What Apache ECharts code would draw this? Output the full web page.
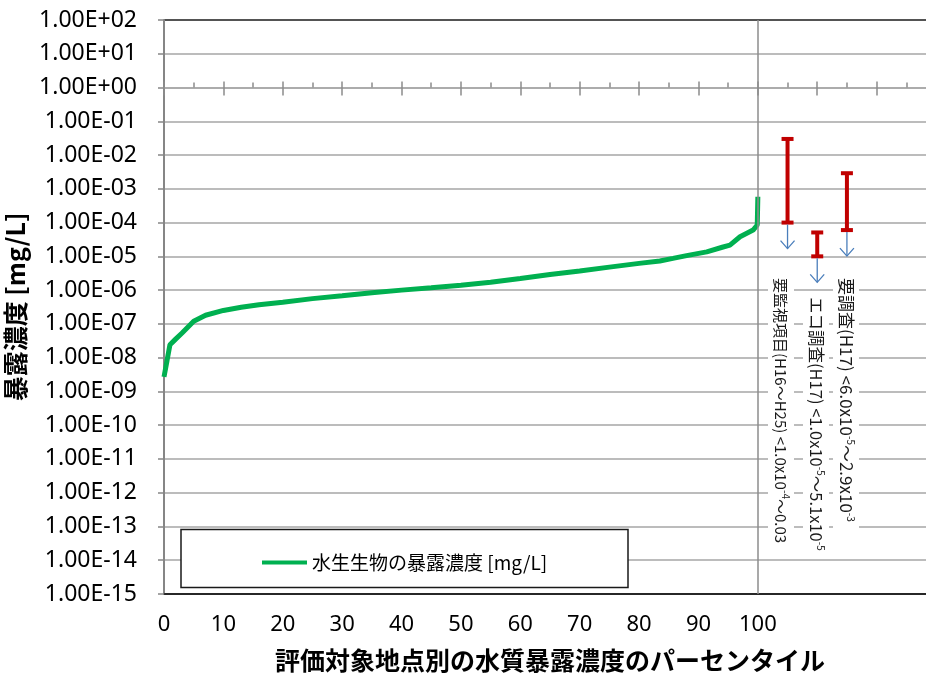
<!DOCTYPE html>
<html>
<head>
<meta charset="utf-8">
<script src="https://cdn.jsdelivr.net/npm/echarts@6/dist/echarts.min.js"></script>
<style>html,body{margin:0;padding:0;background:#fff}#c{width:926px;height:675px}</style>
</head>
<body>
<div id="c"></div>
<script>
// percentile (x) and exposure concentration [mg/L] (y)
const pct  = [0, 0.5, 1, 2, 3, 5, 7, 10, 13, 16, 20, 25, 30, 35, 40, 45, 50, 55, 60, 65, 70, 75, 80, 83.5, 85.7, 88, 91.4, 94, 95.3, 97, 99.2, 99.9, 100];
const conc = [2.7e-9, 8e-9, 2.4e-8, 3.6e-8, 5.3e-8, 1.2e-7, 1.8e-7, 2.5e-7, 3.1e-7, 3.7e-7, 4.4e-7, 5.6e-7, 6.8e-7, 8.3e-7, 1.0e-6, 1.17e-6, 1.4e-6, 1.7e-6, 2.2e-6, 2.9e-6, 3.7e-6, 4.8e-6, 6.2e-6, 7.3e-6, 8.7e-6, 1.05e-5, 1.36e-5, 1.86e-5, 2.16e-5, 3.8e-5, 6.0e-5, 8.5e-5, 5.8e-4];
// survey ranges
const barX    = [105, 110, 115];
const barLow  = [1.0e-4, 1.0e-5, 6.0e-5];
const barHigh = [0.03, 5.1e-5, 2.9e-3];
const annoText = [
  '要監視項目(H16～H25) <1.0x10{s|-4}～0.03',
  'エコ調査(H17) <1.0x10{s|-5}～5.1x10{s|-5}',
  '要調査(H17) <6.0x10{s|-5}～2.9x10{s|-3}'
];
const seriesName = '水生生物の暴露濃度 [mg/L]';
const xName = '評価対象地点別の水質暴露濃度のパーセンタイル';
const yName = '暴露濃度 [mg/L]';

const chart = echarts.init(document.getElementById('c'), null, {renderer: 'canvas'});
const gridColors = [];
for (let i = 0; i < 18; i++) gridColors.push((i === 0 || i === 17) ? '#1a1a1a' : '#a6a6a6');

function yFmt(v) {
  const e = Math.round(Math.log10(v));
  return '1.00E' + (e < 0 ? '-' : '+') + String(Math.abs(e)).padStart(2, '0');
}
const latin = '"Noto Sans", sans-serif';
const cjk = '"Noto Sans CJK JP", sans-serif';

const curve = pct.map((p, i) => [p, conc[i]]);
const bars = barX.map((x, i) => [x, barLow[i], barHigh[i]]);

const annoPos = [[781, 272, 15], [816, 291, 16.5], [846, 272, 17]];

const option = {
  animation: false,
  backgroundColor: '#fff',
  grid: {left: 164, top: 20, bottom: 81, right: -10, containLabel: false, outerBoundsMode: 'none'},
  xAxis: [
    {
      type: 'value', min: 0, max: 130, interval: 10, position: 'bottom',
      axisLine: {show: true, lineStyle: {color: '#1a1a1a', width: 1.5}},
      axisTick: {show: false},
      splitLine: {show: false},
      axisLabel: {fontSize: 22, fontFamily: latin, color: '#000', margin: 20,
        formatter: v => (v <= 100 ? String(v) : '')},
      name: xName, nameLocation: 'middle', nameGap: 54,
      nameTextStyle: {fontSize: 25, fontWeight: 'bold', fontFamily: cjk, color: '#000'}
    },
    {
      type: 'value', min: 0, max: 130, interval: 10, position: 'top', offset: -67.5,
      axisLine: {show: true, onZero: false, lineStyle: {color: '#a6a6a6', width: 1.5}},
      axisTick: {show: true, length: 6, lineStyle: {color: '#8c8c8c', width: 1.5}},
      minorTick: {show: true, splitNumber: 2, length: 5, lineStyle: {color: '#8c8c8c', width: 1.5}},
      axisLabel: {show: false}, splitLine: {show: false}
    },
    {
      type: 'value', min: 0, max: 130, interval: 10, position: 'top', offset: -67.5,
      axisLine: {show: false, onZero: false},
      axisTick: {show: true, inside: true, length: 8, lineStyle: {color: '#8c8c8c', width: 1.5}},
      axisLabel: {show: false}, splitLine: {show: false}
    }
  ],
  yAxis: {
    type: 'log', logBase: 10, min: 1e-15, max: 1e2, interval: 1, splitNumber: 17,
    axisLine: {show: true, onZero: false, lineStyle: {color: '#868686', width: 2}},
    axisTick: {show: true, length: 6, lineStyle: {color: '#868686', width: 1.5}},
    splitLine: {show: true, lineStyle: {color: gridColors, width: 1.5}},
    axisLabel: {fontSize: 23, fontFamily: latin, color: '#000', margin: 27, formatter: yFmt},
    name: yName, nameLocation: 'middle', nameGap: 128, nameRotate: 90,
    nameTextStyle: {fontSize: 25, fontWeight: 'bold', fontFamily: cjk, color: '#000'}
  },
  legend: {
    data: [seriesName], left: 257, top: 548, z: 6,
    icon: 'rect', itemWidth: 45, itemHeight: 4, itemGap: 5,
    textStyle: {fontSize: 19, fontFamily: cjk, color: '#000'}
  },
  graphic: [
    {type: 'rect', z: 5, shape: {x: 181, y: 529.5, width: 447, height: 58},
     style: {fill: '#fff', stroke: '#1a1a1a', lineWidth: 1.5}}
  ].concat(annoText.map((t, i) => ({
    type: 'text', z: 5, x: annoPos[i][0], y: annoPos[i][1], rotation: -Math.PI / 2,
    style: {
      text: t, fill: '#1a1a1a', font: annoPos[i][2] + 'px ' + cjk,
      align: 'left', verticalAlign: 'middle', backgroundColor: '#fff', padding: [3, 6],
      rich: {s: {fontSize: 10, fontFamily: cjk, fill: '#1a1a1a', verticalAlign: 'top', lineHeight: 20}}
    }
  }))),
  series: [
    {
      name: seriesName, type: 'line', data: curve, symbol: 'none', smooth: false,
      lineStyle: {color: '#00b050', width: 5}, itemStyle: {color: '#00b050'},
      z: 3,
      markLine: {
        silent: true, symbol: 'none', label: {show: false},
        lineStyle: {color: '#8c8c8c', width: 1.5, type: 'solid'},
        data: [{xAxis: 100}]
      }
    },
    {
      name: 'ranges', type: 'custom', data: bars, z: 4,
      renderItem: function (params, api) {
        const x = api.value(0);
        const pLo = api.coord([x, api.value(1)]);
        const pHi = api.coord([x, api.value(2)]);
        const cx = pLo[0];
        const red = {stroke: '#c00000', lineWidth: 4};
        const blue = {stroke: '#4a7ebb', lineWidth: 1.3, fill: null};
        const end = pLo[1] + 26;
        return {type: 'group', children: [
          {type: 'line', shape: {x1: cx, y1: pLo[1], x2: cx, y2: pHi[1]}, style: red},
          {type: 'line', shape: {x1: cx - 6, y1: pHi[1], x2: cx + 6, y2: pHi[1]}, style: red},
          {type: 'line', shape: {x1: cx - 6, y1: pLo[1], x2: cx + 6, y2: pLo[1]}, style: red},
          {type: 'line', shape: {x1: cx, y1: pLo[1] + 2, x2: cx, y2: end}, style: blue},
          {type: 'polyline', shape: {points: [[cx - 7, end - 8], [cx, end], [cx + 7, end - 8]]}, style: blue}
        ]};
      }
    }
  ]
};
chart.setOption(option);
</script>
</body>
</html>
